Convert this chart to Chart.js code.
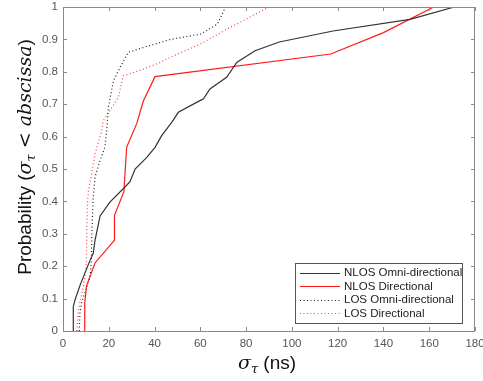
<!DOCTYPE html>
<html>
<head>
<meta charset="utf-8">
<script src="https://cdn.jsdelivr.net/npm/chart.js@4"></script>
<style>
  html, body { margin: 0; padding: 0; background: #fff; }
  #wrap { width: 483px; height: 381px; }
</style>
</head>
<body>
<div id="wrap"><canvas id="graph" width="483" height="381"></canvas></div>
<script>
// values (delay spread in ns, cumulative probability)
const nlosOmniX = [4.5, 4.5, 5.2, 7.4, 11.8, 13.2, 14, 16.2, 20.5, 26.3, 29.2, 31.5, 36.6, 40.2, 43.1, 47.5, 50.4, 59.8, 61.3, 64.2, 71.5, 75.9, 83.9, 94.5, 118, 151.6, 171];
const nlosOmniY = [0, 0.075, 0.095, 0.14, 0.218, 0.24, 0.28, 0.355, 0.398, 0.439, 0.46, 0.5, 0.536, 0.567, 0.603, 0.644, 0.675, 0.711, 0.716, 0.747, 0.783, 0.829, 0.865, 0.892, 0.926, 0.962, 1];

const nlosDirX = [9.3, 9.5, 10.3, 14, 22.4, 22.5, 26.6, 27.8, 32.2, 35.1, 40.2, 117, 140, 162];
const nlosDirY = [0, 0.086, 0.14, 0.21, 0.28, 0.357, 0.43, 0.567, 0.64, 0.71, 0.785, 0.855, 0.921, 1];

const losOmniX = [7.1, 7.4, 8.2, 10.4, 11.8, 12.4, 12.6, 13.2, 14, 16.2, 18.3, 19.1, 19.8, 22, 24.9, 28.5, 35.1, 47, 60, 67.4, 70.3, 70.5];
const losOmniY = [0, 0.055, 0.09, 0.136, 0.167, 0.218, 0.3, 0.413, 0.475, 0.526, 0.567, 0.618, 0.69, 0.772, 0.813, 0.86, 0.875, 0.9, 0.916, 0.947, 0.988, 1];

const losDirX = [6, 6.7, 7.4, 8.9, 9.6, 10.2, 10.4, 10.6, 11.1, 12.5, 14, 16.9, 17.6, 24.2, 26.3, 35.1, 42.4, 46.7, 59.8, 71.5, 90];
const losDirY = [0, 0.055, 0.09, 0.136, 0.167, 0.21, 0.31, 0.382, 0.434, 0.485, 0.547, 0.618, 0.649, 0.721, 0.788, 0.808, 0.829, 0.844, 0.885, 0.931, 1];

const seriesNames = ["NLOS Omni-directional", "NLOS Directional", "LOS Omni-directional", "LOS Directional"];
const xTicks = [0, 20, 40, 60, 80, 100, 120, 140, 160, 180];
const yTicks = [0, 0.1, 0.2, 0.3, 0.4, 0.5, 0.6, 0.7, 0.8, 0.9, 1];

const pts = (xs, ys) => xs.map((x, i) => ({ x: x, y: ys[i] }));

// matlab style box + inward ticks
const boxPlugin = {
  id: "box",
  afterDraw(chart) {
    const ctx = chart.ctx;
    const a = chart.chartArea;
    const sx = chart.scales.x, sy = chart.scales.y;
    ctx.save();
    ctx.strokeStyle = "#8a8a8a";
    ctx.lineWidth = 1;
    ctx.strokeRect(a.left + 0.5, a.top + 0.5, a.right - a.left - 1, a.bottom - a.top);
    ctx.beginPath();
    xTicks.forEach(v => {
      const px = Math.round(sx.getPixelForValue(v)) + 0.5;
      ctx.moveTo(px, a.bottom); ctx.lineTo(px, a.bottom - 4);
      ctx.moveTo(px, a.top); ctx.lineTo(px, a.top + 4);
    });
    yTicks.forEach(v => {
      const py = Math.round(sy.getPixelForValue(v)) + 0.5;
      ctx.moveTo(a.left, py); ctx.lineTo(a.left + 4, py);
      ctx.moveTo(a.right, py); ctx.lineTo(a.right - 4, py);
    });
    ctx.stroke();

    // legend
    const lx = 295, ly = 263, lw = 167, lh = 60;
    ctx.fillStyle = "#fff";
    ctx.fillRect(lx, ly, lw, lh);
    ctx.strokeStyle = "#555";
    ctx.strokeRect(lx + 0.5, ly + 0.5, lw, lh);
    ctx.font = "11.5px 'Liberation Sans', Arial, sans-serif";
    ctx.textBaseline = "middle";
    chart.data.datasets.forEach((ds, i) => {
      const y = ly + 9.5 + i * 13.6;
      ctx.beginPath();
      ctx.strokeStyle = ds.borderColor;
      ctx.lineWidth = ds.borderWidth;
      ctx.setLineDash(ds.borderDash || []);
      ctx.moveTo(300, Math.round(y) + 0.5); ctx.lineTo(340, Math.round(y) + 0.5);
      ctx.stroke();
      ctx.setLineDash([]);
      ctx.fillStyle = "#222";
      ctx.fillText(ds.label, 344, y + 0.5);
    });

    // axis titles with subscripts
    const sans = "'Liberation Sans', Arial, sans-serif";
    const serif = "'DejaVu Serif', 'Liberation Serif', serif";
    const parts = (list) => list.map(p => {
      ctx.font = p.f;
      return Object.assign({ w: ctx.measureText(p.t).width }, p);
    });
    const drawParts = (list, cx, base) => {
      const total = list.reduce((s, p) => s + p.w, 0);
      let x = cx - total / 2;
      list.forEach(p => {
        ctx.font = p.f;
        ctx.fillText(p.t, x, base + (p.d || 0));
        x += p.w;
      });
    };
    ctx.fillStyle = "#111";
    ctx.textBaseline = "alphabetic";
    const yTitle = parts([
      { t: "Probability (", f: "19px " + sans },
      { t: "σ", f: "italic 19px " + serif },
      { t: "τ", f: "italic 13px " + serif, d: 4 },
      { t: " < ", f: "19px " + serif },
      { t: "abscissa", f: "italic 19px " + serif },
      { t: ")", f: "19px " + sans }
    ]);
    ctx.save();
    ctx.translate(31, 157);
    ctx.rotate(-Math.PI / 2);
    drawParts(yTitle, 0, 0);
    ctx.restore();

    const xTitle = parts([
      { t: "σ", f: "italic 19px " + serif },
      { t: "τ", f: "italic 13px " + serif, d: 4 },
      { t: " (ns)", f: "19px " + sans }
    ]);
    drawParts(xTitle, 267, 369);
    ctx.restore();
  }
};

const ctx = document.getElementById("graph").getContext("2d");
const meuGrafico = new Chart(ctx, {
  type: "scatter",
  data: {
    datasets: [
      { label: seriesNames[0], data: pts(nlosOmniX, nlosOmniY), borderColor: "#333333", borderWidth: 1.2 },
      { label: seriesNames[1], data: pts(nlosDirX, nlosDirY), borderColor: "#ff1a1a", borderWidth: 1.2 },
      { label: seriesNames[2], data: pts(losOmniX, losOmniY), borderColor: "#222222", borderWidth: 1.2, borderDash: [1, 2.5] },
      { label: seriesNames[3], data: pts(losDirX, losDirY), borderColor: "#ff4040", borderWidth: 1.2, borderDash: [1, 2.5] }
    ].map(d => Object.assign({ showLine: true, pointRadius: 0, tension: 0, fill: false }, d))
  },
  options: {
    responsive: false,
    animation: false,
    devicePixelRatio: 1,
    layout: { padding: { top: 7, right: 8, left: 0, bottom: 0 } },
    plugins: { legend: { display: false }, tooltip: { enabled: false } },
    scales: {
      x: {
        type: "linear", min: 0, max: 180,
        afterBuildTicks: s => { s.ticks = xTicks.map(v => ({ value: v })); },
        afterFit: s => { s.height = 50; s.paddingLeft = 0; s.paddingRight = 0; },
        grid: { display: false, drawTicks: false },
        border: { display: false },
        ticks: { color: "#555", padding: 6, font: { size: 11.5, family: "'Liberation Sans', Arial, sans-serif" }, maxRotation: 0 }
      },
      y: {
        type: "linear", min: 0, max: 1,
        afterBuildTicks: s => { s.ticks = yTicks.map(v => ({ value: v })); },
        afterFit: s => { s.width = 63; s.paddingTop = 0; s.paddingBottom = 0; },
        grid: { display: false, drawTicks: false },
        border: { display: false },
        ticks: { color: "#555", padding: 5, font: { size: 11.5, family: "'Liberation Sans', Arial, sans-serif" }, callback: v => String(v) }
      }
    }
  },
  plugins: [boxPlugin]
});
</script>
</body>
</html>
